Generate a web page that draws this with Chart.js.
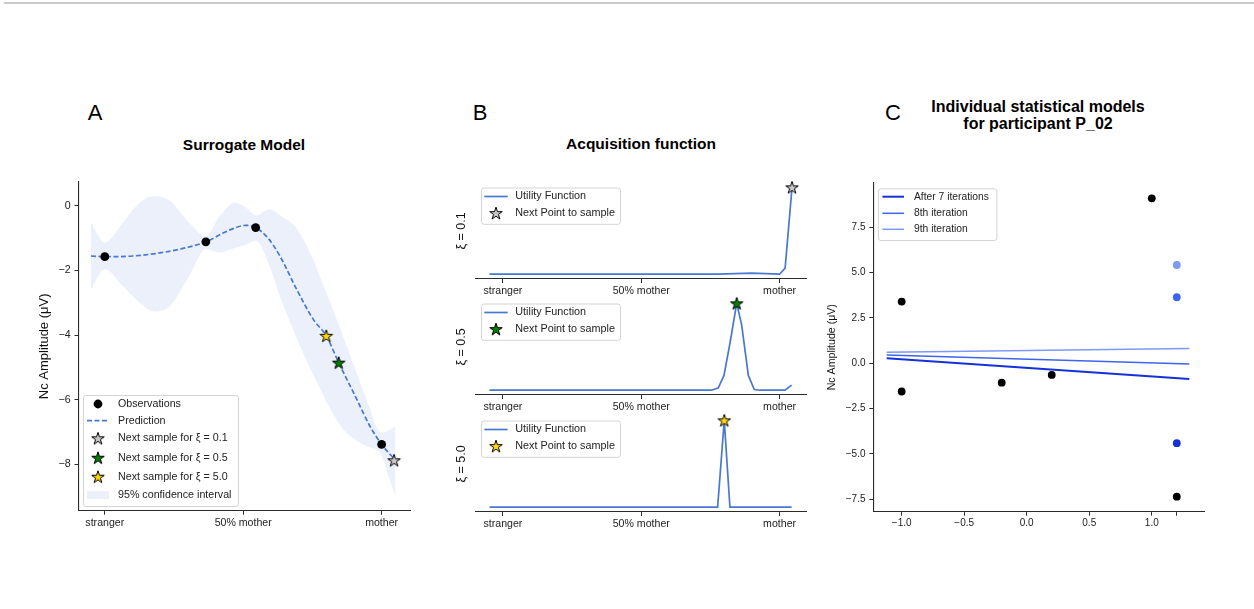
<!DOCTYPE html>
<html>
<head>
<meta charset="utf-8">
<script src="https://cdn.jsdelivr.net/npm/chart.js@4.4.1/dist/chart.umd.min.js"></script>
<style>
  body { margin: 0; background: #fff; }
  #page { position: relative; width: 1254px; height: 609px; overflow: hidden; font-family: 'Liberation Sans', Arial, sans-serif; color: #000; }
  #rule { position: absolute; left: 4px; top: 2px; width: 1250px; height: 2px; background: #cacaca; }
  canvas { position: absolute; }
  .txt { position: absolute; transform: translate(-50%, -50%); white-space: nowrap; }
  .letter { font-size: 22px; }
  .title { font-size: 15.5px; font-weight: bold; }
  .title2 { font-size: 16px; font-weight: bold; text-align: center; line-height: 17.4px; }
</style>
</head>
<body>
<div id="page">
  <div id="rule"></div>
  <div class="txt letter" style="left:95px;top:113px">A</div>
  <div class="txt title" style="left:244px;top:145px">Surrogate Model</div>
  <div class="txt letter" style="left:480px;top:113px">B</div>
  <div class="txt title" style="left:641px;top:144px">Acquisition function</div>
  <div class="txt letter" style="left:893px;top:113px">C</div>
  <div class="txt title2" style="left:1038px;top:115px">Individual statistical models<br>for participant P_02</div>

  <canvas id="chartA" width="440" height="380" style="left:0;top:160px"></canvas>
  <canvas id="chartB1" width="390" height="141" style="left:440px;top:160px"></canvas>
  <canvas id="chartB2" width="390" height="141" style="left:440px;top:276px"></canvas>
  <canvas id="chartB3" width="390" height="141" style="left:440px;top:393px"></canvas>
  <canvas id="chartC" width="434" height="380" style="left:820px;top:160px"></canvas>
</div>
<script>
// ---- panel A: surrogate model ----
const catTicks = [-1, 0, 1];
const catLabels = ['stranger', '50% mother', 'mother'];
const yTicksA = [0, -2, -4, -6, -8];

const obsX = [-1, -0.27, 0.09, 1.0];
const obsY = [-1.57, -1.11, -0.67, -7.38];

const predX = [-1.1, -1.0, -0.8, -0.58, -0.4, -0.27, -0.1, 0.02, 0.09, 0.18, 0.265, 0.386, 0.506, 0.60, 0.69, 0.82, 0.915, 1.0, 1.1];
const predY = [-1.55, -1.57, -1.55, -1.44, -1.28, -1.11, -0.75, -0.60, -0.67, -1.0, -1.55, -2.58, -3.51, -4.02, -4.85, -5.98, -6.81, -7.38, -7.87];

const bandX = [-1.1, -1.0, -0.87, -0.75, -0.64, -0.53, -0.39, -0.27, -0.17, -0.06, 0.02, 0.09, 0.19, 0.27, 0.39, 0.51, 0.55, 0.63, 0.72, 0.80, 0.90, 0.97, 1.0, 1.05, 1.1];
const bandUpper = [-0.52, -1.13, -0.52, 0.10, 0.31, 0.16, -0.52, -0.93, -0.31, 0.10, -0.05, -0.29, -0.10, -0.30, -0.72, -1.7, -2.15, -3.0, -4.02, -4.95, -6.1, -6.9, -7.02, -6.96, -6.81];
const bandLower = [-2.58, -1.96, -2.48, -2.99, -3.27, -3.10, -2.17, -1.34, -1.44, -1.30, -1.20, -1.08, -1.85, -2.85, -4.13, -5.26, -5.6, -6.29, -6.9, -7.2, -7.45, -7.56, -7.72, -8.36, -8.98];

// next samples for xi = 0.1, 0.5, 5.0
const xiLabels = ['0.1', '0.5', '5.0'];
const nextX = [1.09, 0.69, 0.60];
const nextY = [-7.87, -4.85, -4.02];

// ---- panel B: acquisition functions (normalised) ----
const util01X = [-1.097, 0.55, 0.8, 1.0, 1.04, 1.09];
const util01Y = [0, 0, 0.012, 0, 0.07, 1.0];
const util05X = [-1.097, 0.509, 0.557, 0.598, 0.641, 0.69, 0.726, 0.774, 0.817, 0.858, 1.039, 1.087];
const util05Y = [0, 0, 0.027, 0.17, 0.54, 1.0, 0.75, 0.17, 0.008, 0, 0, 0.058];
const util50X = [-1.097, 0.552, 0.60, 0.641, 1.087];
const util50Y = [0, 0, 1.0, 0, 0];

// ---- panel C: individual models ----
const xTicksC = [-1, -0.5, 0, 0.5, 1, 1.2];
const xTickLabelsC = ['\u22121.0', '\u22120.5', '0.0', '0.5', '1.0', ''];
const yTicksC = [-7.5, -5, -2.5, 0, 2.5, 5, 7.5];
const lineXC = [-1.12, 1.3];
const iter7Y = [0.27, -0.87];
const iter8Y = [0.46, -0.04];
const iter9Y = [0.60, 0.82];
const obsCX = [-1, -1, -0.2, 0.2, 1.0, 1.2];
const obsCY = [3.40, -1.56, -1.07, -0.645, 9.10, -7.36];
const newCX = [1.2, 1.2, 1.2];
const newCY = [-4.41, 3.64, 5.42];

// ---- styling ----
Chart.defaults.font.family = "'Liberation Sans', Arial, sans-serif";
Chart.defaults.color = '#222';
const spine = '#2b2b2b';
const blue = '#4878d0';
const bandColor = 'rgba(72,120,208,0.11)';
const starFills = ['#c8c8c8', '#008000', '#ffd700'];
const iterColors = ['#1432d8', '#3c64f0', '#7d98f8'];

const pts = (xs, ys) => xs.map((x, i) => ({x, y: ys[i]}));
const minus = s => s.replace('-', '\u2212');

function starImage(fill, R) {
  const s = Math.ceil(R * 2 + 4);
  const c = document.createElement('canvas');
  c.width = s; c.height = s;
  const g = c.getContext('2d');
  g.translate(s / 2, s / 2 + 0.6);
  g.beginPath();
  for (let i = 0; i < 10; i++) {
    const r = i % 2 ? R * 0.381966 : R;
    const a = -Math.PI / 2 + i * Math.PI / 5;
    g.lineTo(r * Math.cos(a), r * Math.sin(a));
  }
  g.closePath();
  g.fillStyle = fill; g.fill();
  g.lineWidth = 1; g.strokeStyle = '#000'; g.lineJoin = 'miter'; g.stroke();
  return c;
}
const stars = starFills.map(f => starImage(f, 6.6));

// boxed legend drawn inside the axes, matplotlib style
function boxLegend(spec) {
  return {
    id: 'boxLegend',
    afterDraw(chart) {
      const ctx = chart.ctx;
      ctx.save();
      ctx.beginPath();
      ctx.roundRect(spec.x + 0.5, spec.y + 0.5, spec.w, spec.h, 2.5);
      ctx.fillStyle = 'rgba(255,255,255,0.8)';
      ctx.fill();
      ctx.strokeStyle = '#d4d4d4';
      ctx.lineWidth = 1;
      ctx.stroke();
      ctx.font = spec.font;
      ctx.textBaseline = 'middle';
      spec.items.forEach((it, i) => {
        const cy = spec.y + spec.rows[i];
        const x0 = spec.x + spec.sym[0], x1 = spec.x + spec.sym[1], xm = (x0 + x1) / 2;
        if (it.kind === 'line') {
          ctx.beginPath();
          ctx.setLineDash(it.dash || []);
          ctx.strokeStyle = it.color; ctx.lineWidth = it.width;
          ctx.moveTo(x0, cy); ctx.lineTo(x1, cy); ctx.stroke();
          ctx.setLineDash([]);
        } else if (it.kind === 'dot') {
          ctx.beginPath(); ctx.arc(xm, cy, 4.4, 0, Math.PI * 2);
          ctx.fillStyle = it.color; ctx.fill();
        } else if (it.kind === 'star') {
          ctx.drawImage(it.img, xm - it.img.width / 2, cy - it.img.height / 2);
        } else if (it.kind === 'patch') {
          ctx.fillStyle = it.color; ctx.fillRect(x0, cy - 4, x1 - x0, 8);
        }
        ctx.fillStyle = '#222';
        ctx.fillText(it.label, spec.x + spec.textX, cy);
      });
      ctx.restore();
    }
  };
}

function xAxis(min, max, ticks, labels, size, height, pad) {
  return {
    type: 'linear', min, max,
    border: {display: true, color: spine, width: 1.1},
    grid: {display: true, drawOnChartArea: false, drawTicks: true, tickLength: 4, tickColor: spine, tickWidth: 1},
    ticks: {autoSkip: false, maxRotation: 0, padding: pad, font: {size}, callback: v => labels[ticks.indexOf(v)] ?? ''},
    afterBuildTicks: s => { s.ticks = ticks.map(v => ({value: v})); },
    afterFit: s => { s.height = height; }
  };
}

function yAxis(min, max, ticks, labels, size, width, title, titleSize, titlePad) {
  return {
    type: 'linear', min, max,
    border: {display: ticks.length > 0, color: spine, width: 1.1},
    grid: {display: ticks.length > 0, drawOnChartArea: false, drawTicks: true, tickLength: 4, tickColor: spine, tickWidth: 1},
    ticks: {display: ticks.length > 0, autoSkip: false, padding: 3.8, font: {size}, callback: v => labels[ticks.indexOf(v)] ?? ''},
    title: {display: true, text: title, color: '#111', font: {size: titleSize}, padding: {top: titlePad, bottom: 0}},
    afterBuildTicks: s => { s.ticks = ticks.map(v => ({value: v})); },
    afterFit: s => { s.width = width; }
  };
}

function makeChart(id, pad, datasets, scales, legendSpec) {
  return new Chart(document.getElementById(id), {
    type: 'scatter',
    data: {datasets},
    options: {
      responsive: false, animation: false, events: [],
      layout: {padding: pad},
      plugins: {legend: {display: false}, tooltip: {enabled: false}},
      scales
    },
    plugins: [boxLegend(legendSpec)]
  });
}

// ---- chart A ----
makeChart('chartA', {top: 22, right: 30, bottom: 0, left: 0}, [
  ...nextX.map((x, i) => ({label: 'Next sample for \u03be = ' + xiLabels[i], data: [{x, y: nextY[i]}], pointStyle: stars[i], pointRadius: 6.6, clip: false})),
  {label: 'Observations', data: pts(obsX, obsY), pointRadius: 4.4, backgroundColor: '#000', borderWidth: 0, clip: false},
  {label: 'Prediction', data: pts(predX, predY), showLine: true, borderColor: blue, borderWidth: 1.7, borderDash: [5, 2.5], pointRadius: 0, cubicInterpolationMode: 'monotone'},
  {label: '95% confidence interval', data: pts(bandX, bandUpper), showLine: true, borderColor: 'transparent', pointRadius: 0, fill: '+1', backgroundColor: bandColor, cubicInterpolationMode: 'monotone'},
  {label: 'lower bound', data: pts(bandX, bandLower), showLine: true, borderColor: 'transparent', pointRadius: 0, cubicInterpolationMode: 'monotone'}
], {
  x: xAxis(-1.19, 1.205, catTicks, catLabels, 10.6, 29.3, 2.2),
  y: yAxis(-9.43, 0.74, yTicksA, yTicksA.map(v => minus(String(v))), 10.6, 78.5, 'Nc Amplitude (\u03bcV)', 13, 36.9)
}, {
  x: 83, y: 235, w: 155, h: 111, font: "10.7px 'Liberation Sans', Arial, sans-serif",
  rows: [9, 25.7, 43.3, 62.7, 81.7, 100], sym: [4, 26], textX: 35,
  items: [
    {kind: 'dot', color: '#000', label: 'Observations'},
    {kind: 'line', color: blue, width: 1.7, dash: [5, 2.5], label: 'Prediction'},
    {kind: 'star', img: stars[0], label: 'Next sample for \u03be = ' + xiLabels[0]},
    {kind: 'star', img: stars[1], label: 'Next sample for \u03be = ' + xiLabels[1]},
    {kind: 'star', img: stars[2], label: 'Next sample for \u03be = ' + xiLabels[2]},
    {kind: 'patch', color: bandColor, label: '95% confidence interval'}
  ]
});

// ---- charts B ----
const utilX = [util01X, util05X, util50X];
const utilY = [util01Y, util05Y, util50Y];
['chartB1', 'chartB2', 'chartB3'].forEach((id, k) => {
  makeChart(id, {top: 23, right: 23.3, bottom: 0, left: 0}, [
    {label: 'Next Point to sample', data: [{x: nextX[k], y: 1}], pointStyle: stars[k], pointRadius: 6.6, clip: false},
    {label: 'Utility Function', data: pts(utilX[k], utilY[k]), showLine: true, borderColor: blue, borderWidth: 1.7, pointRadius: 0, tension: 0, clip: false}
  ], {
    x: xAxis(-1.197, 1.196, catTicks, catLabels, 10.6, 22, 2.0),
    y: yAxis(-0.055, 1.05, [], [], 10.6, 35.7, '\u03be = ' + xiLabels[k], 12.5, 14.2)
  }, {
    x: 41, y: 27.5, w: 139, h: 36.3, font: "10.8px 'Liberation Sans', Arial, sans-serif",
    rows: [9, 25.6], sym: [3.3, 26.7], textX: 34.3,
    items: [
      {kind: 'line', color: blue, width: 1.7, label: 'Utility Function'},
      {kind: 'star', img: stars[k], label: 'Next Point to sample'}
    ]
  });
});

// ---- chart C ----
makeChart('chartC', {top: 22.7, right: 49.7, bottom: 0, left: 0}, [
  {label: 'new points', data: pts(newCX, newCY), pointRadius: 3.9, pointBackgroundColor: iterColors, borderWidth: 0, clip: false},
  {label: 'observations', data: pts(obsCX, obsCY), pointRadius: 3.9, backgroundColor: '#000', borderWidth: 0, clip: false},
  {label: 'After 7 iterations', data: pts(lineXC, iter7Y), showLine: true, borderColor: iterColors[0], borderWidth: 2, pointRadius: 0},
  {label: '8th iteration', data: pts(lineXC, iter8Y), showLine: true, borderColor: iterColors[1], borderWidth: 1.5, pointRadius: 0},
  {label: '9th iteration', data: pts(lineXC, iter9Y), showLine: true, borderColor: iterColors[2], borderWidth: 1.5, pointRadius: 0}
], {
  x: xAxis(-1.227, 1.42, xTicksC, xTickLabelsC, 10, 28.3, 1.8),
  y: yAxis(-8.19, 9.96, yTicksC, yTicksC.map(v => minus(v.toFixed(1))), 10, 53.3, 'Nc Amplitude (\u03bcV)', 10.6, 5.6)
}, {
  x: 58, y: 28.3, w: 118.4, h: 51.7, font: "10.3px 'Liberation Sans', Arial, sans-serif",
  rows: [8.4, 25, 41], sym: [4.4, 26], textX: 36,
  items: [
    {kind: 'line', color: iterColors[0], width: 2, label: 'After 7 iterations'},
    {kind: 'line', color: iterColors[1], width: 1.5, label: '8th iteration'},
    {kind: 'line', color: iterColors[2], width: 1.5, label: '9th iteration'}
  ]
});
</script>
</body>
</html>
